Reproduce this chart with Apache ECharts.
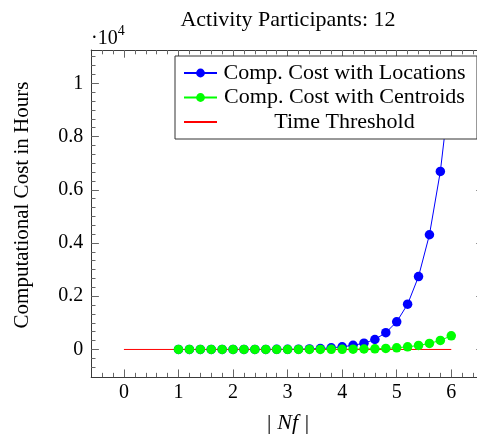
<!DOCTYPE html>
<html>
<head>
<meta charset="utf-8">
<script src="https://cdn.jsdelivr.net/npm/echarts@6/dist/echarts.min.js"></script>
<style>html,body{margin:0;padding:0;background:#fff;}#c{width:477px;height:435px;}</style>
</head>
<body>
<div id="c"></div>
<script>
// ---- data (hours) ----
const nf = [1.0,1.2,1.4,1.6,1.8,2.0,2.2,2.4,2.6,2.8,3.0,3.2,3.4,3.6,3.8,4.0,4.2,4.4,4.6,4.8,5.0,5.2,5.4,5.6,5.8,6.0];
const costLocations = [0,0,0,1,1,1,2,2,3,4,6,9,20,35,60,100,155,235,375,630,1040,1700,2740,4310,6690,10200];
const costCentroids = [0,0,0,0,0,0,0,0,0,0,0,1,2,3,5,7,11,17,26,40,63,100,150,226,340,514];
const thresholdX = [0,6];
const thresholdY = [0,0];
const xMajorTicks = [0,1,2,3,4,5,6];
const yMajorTicks = [0,2000,4000,6000,8000,10000];
const seriesNames = ['Comp. Cost with Locations','Comp. Cost with Centroids','Time Threshold'];
const titleText = 'Activity Participants: 12';
const xLabel = '| Nf |';
const yLabel = 'Computational Cost in Hours';

// minor tick positions
const xMinorTicks = [];
for (let k = -2; k <= 32; k++) { if (k % 5 !== 0) xMinorTicks.push(+(k * 0.2).toFixed(4)); }
const yMinorTicks = [];
for (let k = -2; k <= 33; k++) { if (k % 6 !== 0) yMinorTicks.push(k * 2000 / 6); }

const FF = 'Liberation Serif';
const XMIN = -0.6, XMAX = 6.6, YMIN = -1040, YMAX = 11250;
const lineCol = '#3a3a3a', tickCol = '#666';
const gridRect = {left: 91.2, right: -7, top: 50, bottom: 57.85, outerBoundsMode: 'none', containLabel: false};

function xAx(grid, pos, len, ticks, extra) {
  return Object.assign({
    type: 'value', gridIndex: grid, position: pos, min: XMIN, max: XMAX,
    axisLine: {show: grid === 0, onZero: false, lineStyle: {color: lineCol, width: 1}},
    axisTick: {show: true, inside: true, length: len, customValues: ticks, lineStyle: {color: tickCol, width: 1}},
    axisLabel: {show: false}, splitLine: {show: false}
  }, extra || {});
}
function yAx(grid, pos, len, ticks, extra) {
  return Object.assign({
    type: 'value', gridIndex: grid, position: pos, min: YMIN, max: YMAX,
    axisLine: {show: grid === 0, onZero: false, lineStyle: {color: lineCol, width: 1}},
    axisTick: {show: true, inside: true, length: len, customValues: ticks, lineStyle: {color: tickCol, width: 1}},
    axisLabel: {show: false}, splitLine: {show: false}
  }, extra || {});
}

const chart = echarts.init(document.getElementById('c'), null, {renderer: 'canvas'});
const option = {
  animation: false,
  backgroundColor: '#fff',
  grid: [Object.assign({}, gridRect), Object.assign({}, gridRect)],
  legend: {
    orient: 'vertical', left: 175, top: 56, padding: [6, 10, 6, 8], itemGap: 2.5,
    itemWidth: 33, itemHeight: 11, backgroundColor: '#fff', borderColor: '#333', borderWidth: 1, borderRadius: 0,
    formatter: n => '{a|' + n + '}',
    textStyle: {fontFamily: FF, fontSize: 22, color: '#000',
      rich: {a: {width: 245, align: 'center', fontFamily: FF, fontSize: 22, lineHeight: 22, color: '#000'}}},
    data: [seriesNames[0], seriesNames[1], {name: seriesNames[2], itemStyle: {opacity: 0, borderWidth: 0}}]
  },
  xAxis: [
    xAx(0, 'bottom', 7.7, xMajorTicks, {
      axisLabel: {show: true, customValues: xMajorTicks, margin: 6, fontFamily: FF, fontSize: 20, color: '#000'},
      name: xLabel, nameLocation: 'middle', nameGap: 35,
      nameTextStyle: {fontFamily: FF, fontSize: 22, color: '#000', fontStyle: 'italic'}
    }),
    xAx(0, 'top', 7.7, xMajorTicks),
    xAx(1, 'bottom', 4.3, xMinorTicks),
    xAx(1, 'top', 4.3, xMinorTicks)
  ],
  yAxis: [
    yAx(0, 'left', 7.7, yMajorTicks, {
      axisLabel: {show: true, customValues: yMajorTicks, margin: 8, fontFamily: FF, fontSize: 20, color: '#000',
        formatter: v => String(+(v / 10000).toFixed(2))},
      name: yLabel, nameLocation: 'middle', nameGap: 58,
      nameTextStyle: {fontFamily: FF, fontSize: 21, color: '#000', padding: [0, 0, 0, 17]}
    }),
    yAx(0, 'right', 7.7, yMajorTicks),
    yAx(1, 'left', 4.3, yMinorTicks),
    yAx(1, 'right', 4.3, yMinorTicks)
  ],
  graphic: [
    {type: 'text', x: 288, y: 20, style: {text: titleText, font: '22px "' + FF + '"', fill: '#000', align: 'center', verticalAlign: 'middle'}},
    {type: 'text', x: 91, y: 24.5, style: {text: '{a|·10}{b|4}', fill: '#000', verticalAlign: 'top',
      rich: {a: {fontFamily: FF, fontSize: 20, lineHeight: 24, verticalAlign: 'bottom'}, b: {fontFamily: FF, fontSize: 14, lineHeight: 14, verticalAlign: 'top'}}}}
  ],
  series: [
    {type: 'line', name: seriesNames[0], xAxisIndex: 0, yAxisIndex: 0,
      data: nf.map((x, i) => [x, costLocations[i]]), symbol: 'circle', symbolSize: 9.5,
      itemStyle: {color: '#0000ff'}, lineStyle: {color: '#0000ff', width: 1}},
    {type: 'line', name: seriesNames[1], xAxisIndex: 0, yAxisIndex: 0,
      data: nf.map((x, i) => [x, costCentroids[i]]), symbol: 'circle', symbolSize: 9.5,
      itemStyle: {color: '#00ff00'}, lineStyle: {color: '#00ff00', width: 1}},
    {type: 'line', name: seriesNames[2], xAxisIndex: 0, yAxisIndex: 0,
      data: thresholdX.map((x, i) => [x, thresholdY[i]]), symbol: 'none',
      itemStyle: {color: '#ff0000'}, lineStyle: {color: '#ff0000', width: 1}}
  ]
};
chart.setOption(option);
</script>
</body>
</html>
